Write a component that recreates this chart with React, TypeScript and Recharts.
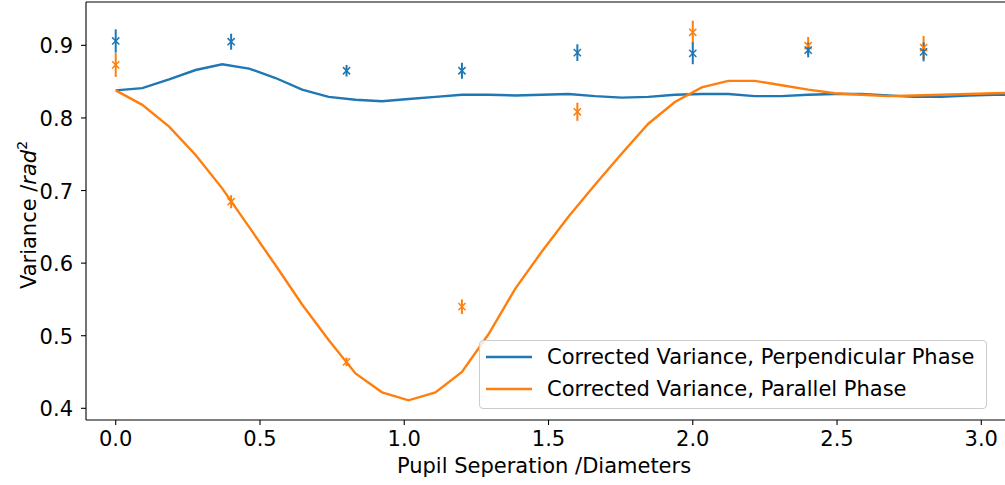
import React from "react";
import {
  ComposedChart,
  Line,
  Scatter,
  ErrorBar,
  XAxis,
  YAxis,
  ReferenceLine,
} from "recharts";

// smooth curves (model), sampled along pupil separation
const curveX = [
  0, 0.092, 0.185, 0.277, 0.369, 0.462, 0.554, 0.646, 0.738, 0.831, 0.923, 1.015,
  1.108, 1.2, 1.292, 1.385, 1.477, 1.569, 1.661, 1.754, 1.846, 1.938, 2.031, 2.123,
  2.215, 2.308, 2.4, 2.492, 2.584, 2.677, 2.769, 2.861, 2.954, 3.046, 3.138,
];
const perpCurve = [
  0.838, 0.841, 0.853, 0.866, 0.874, 0.868, 0.855, 0.839, 0.829, 0.825, 0.823, 0.826,
  0.829, 0.832, 0.832, 0.831, 0.832, 0.833, 0.83, 0.828, 0.829, 0.832, 0.833, 0.833,
  0.83, 0.83, 0.832, 0.833, 0.833, 0.831, 0.829, 0.829, 0.831, 0.832, 0.832,
];
const parCurve = [
  0.838, 0.818, 0.788, 0.749, 0.703, 0.65, 0.597, 0.543, 0.494, 0.448, 0.422, 0.411,
  0.422, 0.45, 0.502, 0.565, 0.616, 0.664, 0.708, 0.751, 0.792, 0.822, 0.842, 0.851,
  0.851, 0.845, 0.839, 0.834, 0.832, 0.83, 0.831, 0.832, 0.833, 0.834, 0.835,
];

// measured points with error
const measX = [0, 0.4, 0.8, 1.2, 1.6, 2.0, 2.4, 2.8];
const perpMeas = [0.906, 0.905, 0.865, 0.865, 0.89, 0.889, 0.8935, 0.891];
const perpErr = [0.016, 0.011, 0.008, 0.011, 0.0115, 0.015, 0.01, 0.013];
const parMeas = [0.873, 0.6846, 0.464, 0.54, 0.8085, 0.918, 0.8995, 0.897];
const parErr = [0.0165, 0.009, 0.006, 0.01, 0.0125, 0.016, 0.012, 0.016];

const xTicks = [0, 0.5, 1.0, 1.5, 2.0, 2.5, 3.0];
const yTicks = [0.4, 0.5, 0.6, 0.7, 0.8, 0.9];

const BLUE = "#1f77b4";
const ORANGE = "#ff7f0e";
const FONT = "DejaVu Sans";
const FS = 21;

const perpLine = curveX.map((x, i) => ({ x, v: perpCurve[i] }));
const parLine = curveX.map((x, i) => ({ x, v: parCurve[i] }));
const perpPts = measX.map((x, i) => ({ x, y: perpMeas[i], err: perpErr[i] }));
const parPts = measX.map((x, i) => ({ x, y: parMeas[i], err: parErr[i] }));

const cross = (color: string) => (props: any) => {
  const { cx, cy } = props;
  const r = 3.6;
  return (
    <path
      d={`M${cx - r},${cy - r}L${cx + r},${cy + r}M${cx - r},${cy + r}L${cx + r},${cy - r}`}
      stroke={color}
      strokeWidth={1.5}
      fill="none"
    />
  );
};

const XTick = (props: any) => {
  const { x, payload } = props;
  return (
    <text x={x} y={446} textAnchor="middle" fontSize={FS} fontFamily={FONT} fill="#000">
      {payload.value.toFixed(1)}
    </text>
  );
};

const YTick = (props: any) => {
  const { y, payload } = props;
  return (
    <text x={73} y={y + 8} textAnchor="end" fontSize={FS} fontFamily={FONT} fill="#000">
      {payload.value.toFixed(1)}
    </text>
  );
};

const legendItems = [
  { label: "Corrected Variance, Perpendicular Phase", color: BLUE },
  { label: "Corrected Variance, Parallel Phase", color: ORANGE },
];

export default function App() {
  return (
    <div
      style={{
        position: "absolute",
        left: 0,
        top: 0,
        width: 1005,
        height: 485,
        overflow: "hidden",
        background: "#fff",
        fontFamily: FONT,
      }}
    >
      <ComposedChart width={1039} height={485} margin={{ top: 2, right: 0, bottom: 0, left: 0 }}>
        <XAxis
          dataKey="x"
          type="number"
          domain={[-0.103, 3.2]}
          allowDataOverflow
          ticks={xTicks}
          height={65}
          tickSize={5}
          tick={<XTick />}
          stroke="#000"
          axisLine={{ stroke: "#000", strokeWidth: 1.1 }}
          tickLine={{ stroke: "#000", strokeWidth: 1.1 }}
          label={{
            content: () => (
              <text x={544} y={473} textAnchor="middle" fontSize={FS} fontFamily={FONT} fill="#000">
                Pupil Seperation /Diameters
              </text>
            ),
          }}
        />
        <YAxis
          type="number"
          domain={[0.3839, 0.9597]}
          allowDataOverflow
          ticks={yTicks}
          width={86}
          tickSize={5}
          tick={<YTick />}
          axisLine={{ stroke: "#000", strokeWidth: 1.1 }}
          tickLine={{ stroke: "#000", strokeWidth: 1.1 }}
          label={{
            content: () => (
              <text
                x={36}
                y={215}
                transform="rotate(-90, 36, 215)"
                textAnchor="middle"
                fontSize={FS}
                fontFamily={FONT}
                fill="#000"
              >
                Variance /<tspan fontStyle="italic">rad</tspan>
                <tspan dy={-9} fontSize={14}>2</tspan>
              </text>
            ),
          }}
        />
        <ReferenceLine y={0.9597} stroke="#000" strokeWidth={1.1} />
        <Line
          data={perpLine}
          dataKey="v"
          stroke={BLUE}
          strokeWidth={2.4}
          dot={false}
          type="linear"
          isAnimationActive={false}
        />
        <Line
          data={parLine}
          dataKey="v"
          stroke={ORANGE}
          strokeWidth={2.4}
          dot={false}
          type="linear"
          isAnimationActive={false}
        />
        <Scatter data={parPts} dataKey="y" shape={cross(ORANGE)} isAnimationActive={false}>
          <ErrorBar dataKey="err" direction="y" width={0} stroke={ORANGE} strokeWidth={2} />
        </Scatter>
        <Scatter data={perpPts} dataKey="y" shape={cross(BLUE)} isAnimationActive={false}>
          <ErrorBar dataKey="err" direction="y" width={0} stroke={BLUE} strokeWidth={2} />
        </Scatter>
      </ComposedChart>
      <div
        style={{
          position: "absolute",
          left: 479,
          top: 340,
          width: 506,
          height: 67,
          border: "1px solid #cccccc",
          borderRadius: 4,
          background: "rgba(255,255,255,0.8)",
        }}
      >
        {legendItems.map((item, i) => (
          <div
            key={item.label}
            style={{ position: "absolute", left: 0, top: 16 + i * 32 - 13, height: 26, width: 506 }}
          >
            <svg width={60} height={26} style={{ position: "absolute", left: 0, top: 0 }}>
              <line x1={6} x2={52} y1={13} y2={13} stroke={item.color} strokeWidth={2.4} />
            </svg>
            <span
              style={{
                position: "absolute",
                left: 67,
                top: 0,
                lineHeight: "26px",
                fontSize: FS,
                color: "#000",
                whiteSpace: "nowrap",
              }}
            >
              {item.label}
            </span>
          </div>
        ))}
      </div>
    </div>
  );
}
